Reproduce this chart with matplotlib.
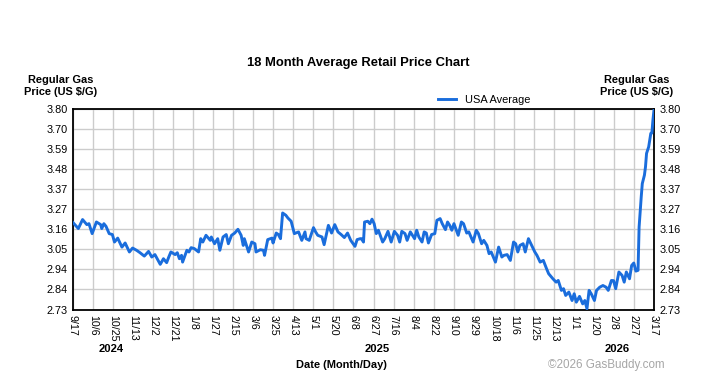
import matplotlib
matplotlib.use("Agg")
import matplotlib.pyplot as plt
import numpy as np
from matplotlib.lines import Line2D

plt.rcParams['font.family'] = ['Liberation Sans', 'DejaVu Sans']

# ---- data: days since 2024-09-17, average price (US $/G) ----
days = [0, 5, 9, 13, 15, 18, 22, 26, 27, 29, 31, 34, 37, 39, 42, 46, 49, 53, 56, 60,
        63, 67, 71, 74, 77, 82, 85, 88, 90, 92, 96, 98, 100, 102, 103, 107, 109, 111, 114, 118,
        120, 122, 125, 129, 130, 133, 136, 138, 141, 144, 146, 149, 152, 155, 158, 160, 161, 165, 168, 171,
        172, 176, 179, 180, 183, 187, 188, 191, 193, 195, 197, 200, 202, 205, 208, 212, 215, 218, 219, 222,
        226, 228, 230, 234, 236, 240, 243, 246, 249, 252, 255, 258, 261, 265, 267, 270, 271, 273, 274, 277,
        279, 281, 283, 285, 287, 291, 293, 296, 299, 302, 305, 307, 309, 312, 314, 317, 319, 321, 323, 325,
        328, 330, 332, 334, 337, 340, 342, 345, 347, 350, 352, 354, 356, 358, 362, 365, 367, 370, 372, 376,
        379, 381, 384, 386, 389, 391, 393, 397, 400, 403, 405, 408, 411, 414, 416, 418, 420, 423, 425, 428,
        431, 434, 436, 439, 442, 445, 447, 451, 454, 456, 459, 461, 463, 466, 469, 471, 473, 476, 479, 481,
        483, 485, 487, 490, 492, 495, 498, 501, 503, 506, 508, 510, 513, 516, 518, 520, 523, 525, 527, 529,
        531, 532, 534, 535, 537, 538, 539, 541, 543, 544, 545, 546]
prices = [3.194, 3.162, 3.210, 3.183, 3.188, 3.135, 3.197, 3.183, 3.162, 3.188, 3.174, 3.135, 3.130, 3.090, 3.111, 3.063, 3.085, 3.037, 3.058, 3.045,
          3.033, 3.015, 3.040, 3.010, 3.023, 2.971, 3.001, 2.980, 3.010, 3.037, 3.023, 3.033, 3.001, 3.019, 2.983, 3.046, 3.037, 3.060, 3.055, 3.037,
          3.108, 3.090, 3.126, 3.099, 3.117, 3.081, 3.108, 3.046, 3.117, 3.130, 3.081, 3.126, 3.138, 3.158, 3.126, 3.072, 3.108, 3.037, 3.090, 3.081,
          3.037, 3.049, 3.046, 3.019, 3.103, 3.111, 3.085, 3.138, 3.130, 3.108, 3.245, 3.233, 3.218, 3.201, 3.135, 3.144, 3.099, 3.144, 3.108, 3.099,
          3.167, 3.144, 3.126, 3.117, 3.076, 3.179, 3.138, 3.183, 3.144, 3.130, 3.114, 3.138, 3.099, 3.067, 3.103, 3.108, 3.108, 3.090, 3.197, 3.201,
          3.188, 3.212, 3.188, 3.135, 3.153, 3.090, 3.108, 3.147, 3.090, 3.147, 3.126, 3.090, 3.147, 3.135, 3.099, 3.144, 3.126, 3.108, 3.153, 3.117,
          3.090, 3.144, 3.138, 3.085, 3.130, 3.135, 3.206, 3.215, 3.188, 3.156, 3.197, 3.179, 3.153, 3.188, 3.126, 3.197, 3.188, 3.138, 3.144, 3.090,
          3.153, 3.135, 3.081, 3.099, 3.072, 3.028, 3.037, 2.983, 3.063, 3.010, 3.019, 3.023, 2.992, 3.090, 3.081, 3.037, 3.072, 3.081, 3.037, 3.108,
          3.072, 3.037, 3.019, 2.983, 2.992, 2.948, 2.921, 2.894, 2.876, 2.885, 2.832, 2.841, 2.805, 2.823, 2.778, 2.814, 2.769, 2.800, 2.760, 2.778,
          2.734, 2.832, 2.814, 2.778, 2.832, 2.849, 2.858, 2.849, 2.832, 2.885, 2.884, 2.841, 2.930, 2.912, 2.876, 2.930, 2.894, 2.965, 2.978, 2.935,
          2.939, 3.170, 3.331, 3.402, 3.447, 3.491, 3.563, 3.598, 3.670, 3.672, 3.741, 3.795]

x_tick_labels = ['9/17', '10/6', '10/25', '11/13', '12/2', '12/21', '1/8', '1/27', '2/15', '3/6',
                 '3/25', '4/13', '5/1', '5/20', '6/8', '6/27', '7/16', '8/4', '8/22', '9/10',
                 '9/29', '10/18', '11/6', '11/25', '12/13', '1/1', '1/20', '2/8', '2/27', '3/17']
y_tick_labels = ['2.73', '2.84', '2.94', '3.05', '3.16', '3.27', '3.37', '3.48', '3.59', '3.70', '3.80']
year_labels = ['2024', '2025', '2026']
year_days = [36, 286, 511]
series_name = 'USA Average'

total_days = 546
y_min, y_max = 2.73, 3.80

W, H = 723, 385
fig = plt.figure(figsize=(W / 100, H / 100), dpi=100)
fig.patch.set_facecolor('white')
ax = fig.add_axes([73 / W, 1 - 309.5 / H, 581 / W, 200.5 / H])

line_color = '#1a6ddc'
ax.plot(days, prices, color=line_color, lw=2.1, solid_joinstyle='round', zorder=3)

ax.set_xlim(0, total_days)
ax.set_ylim(y_min, y_max)
xt = np.linspace(0, total_days, len(x_tick_labels))
yt = np.linspace(y_min, y_max, len(y_tick_labels))
ax.set_xticks(xt)
ax.set_xticklabels(x_tick_labels, rotation=270, fontsize=7.7, va='top', ha='center')
ax.set_yticks(yt)
ax.set_yticklabels(y_tick_labels, fontsize=7.8)
ax.tick_params(axis='both', length=0, colors='#000000')
ax.tick_params(axis='x', pad=4)
ax.tick_params(axis='y', pad=4, labelright=True, labelleft=True)
ax.grid(True, color='#cccccc', lw=1.0, zorder=0)
ax.set_axisbelow(True)
for s in ax.spines.values():
    s.set_color('black')
    s.set_linewidth(1.3)

# titles and labels
fig.text(358 / W, 1 - 63 / H, '18 Month Average Retail Price Chart', ha='center', va='center',
         fontsize=9.4, fontweight='bold')
fig.text(61 / W, 1 - 86 / H, 'Regular Gas\nPrice (US $/G)', ha='center', va='center',
         fontsize=7.9, fontweight='bold', linespacing=1.2)
fig.text(637 / W, 1 - 86 / H, 'Regular Gas\nPrice (US $/G)', ha='center', va='center',
         fontsize=7.9, fontweight='bold', linespacing=1.2)
for lab, d in zip(year_labels, year_days):
    xf = (73 + d / total_days * 581) / W
    fig.text(xf, 1 - 349 / H, lab, ha='center', va='center', fontsize=8.1, fontweight='bold')
fig.text(341 / W, 1 - 365 / H, 'Date (Month/Day)', ha='center', va='center',
         fontsize=7.9, fontweight='bold')
fig.text(606 / W, 1 - 365 / H, '\u00a92026 GasBuddy.com', ha='center', va='center',
         fontsize=8.4, color='#a6a6a6')

# legend
fig.legend(handles=[Line2D([0], [0], color=line_color, lw=2.1)], labels=[series_name],
           loc='center left', bbox_to_anchor=(430 / W, 1 - 100 / H), frameon=False,
           fontsize=7.9, handlelength=1.7, handletextpad=0.8, borderpad=0.2)

fig.savefig('out.png', dpi=100, facecolor='white')
